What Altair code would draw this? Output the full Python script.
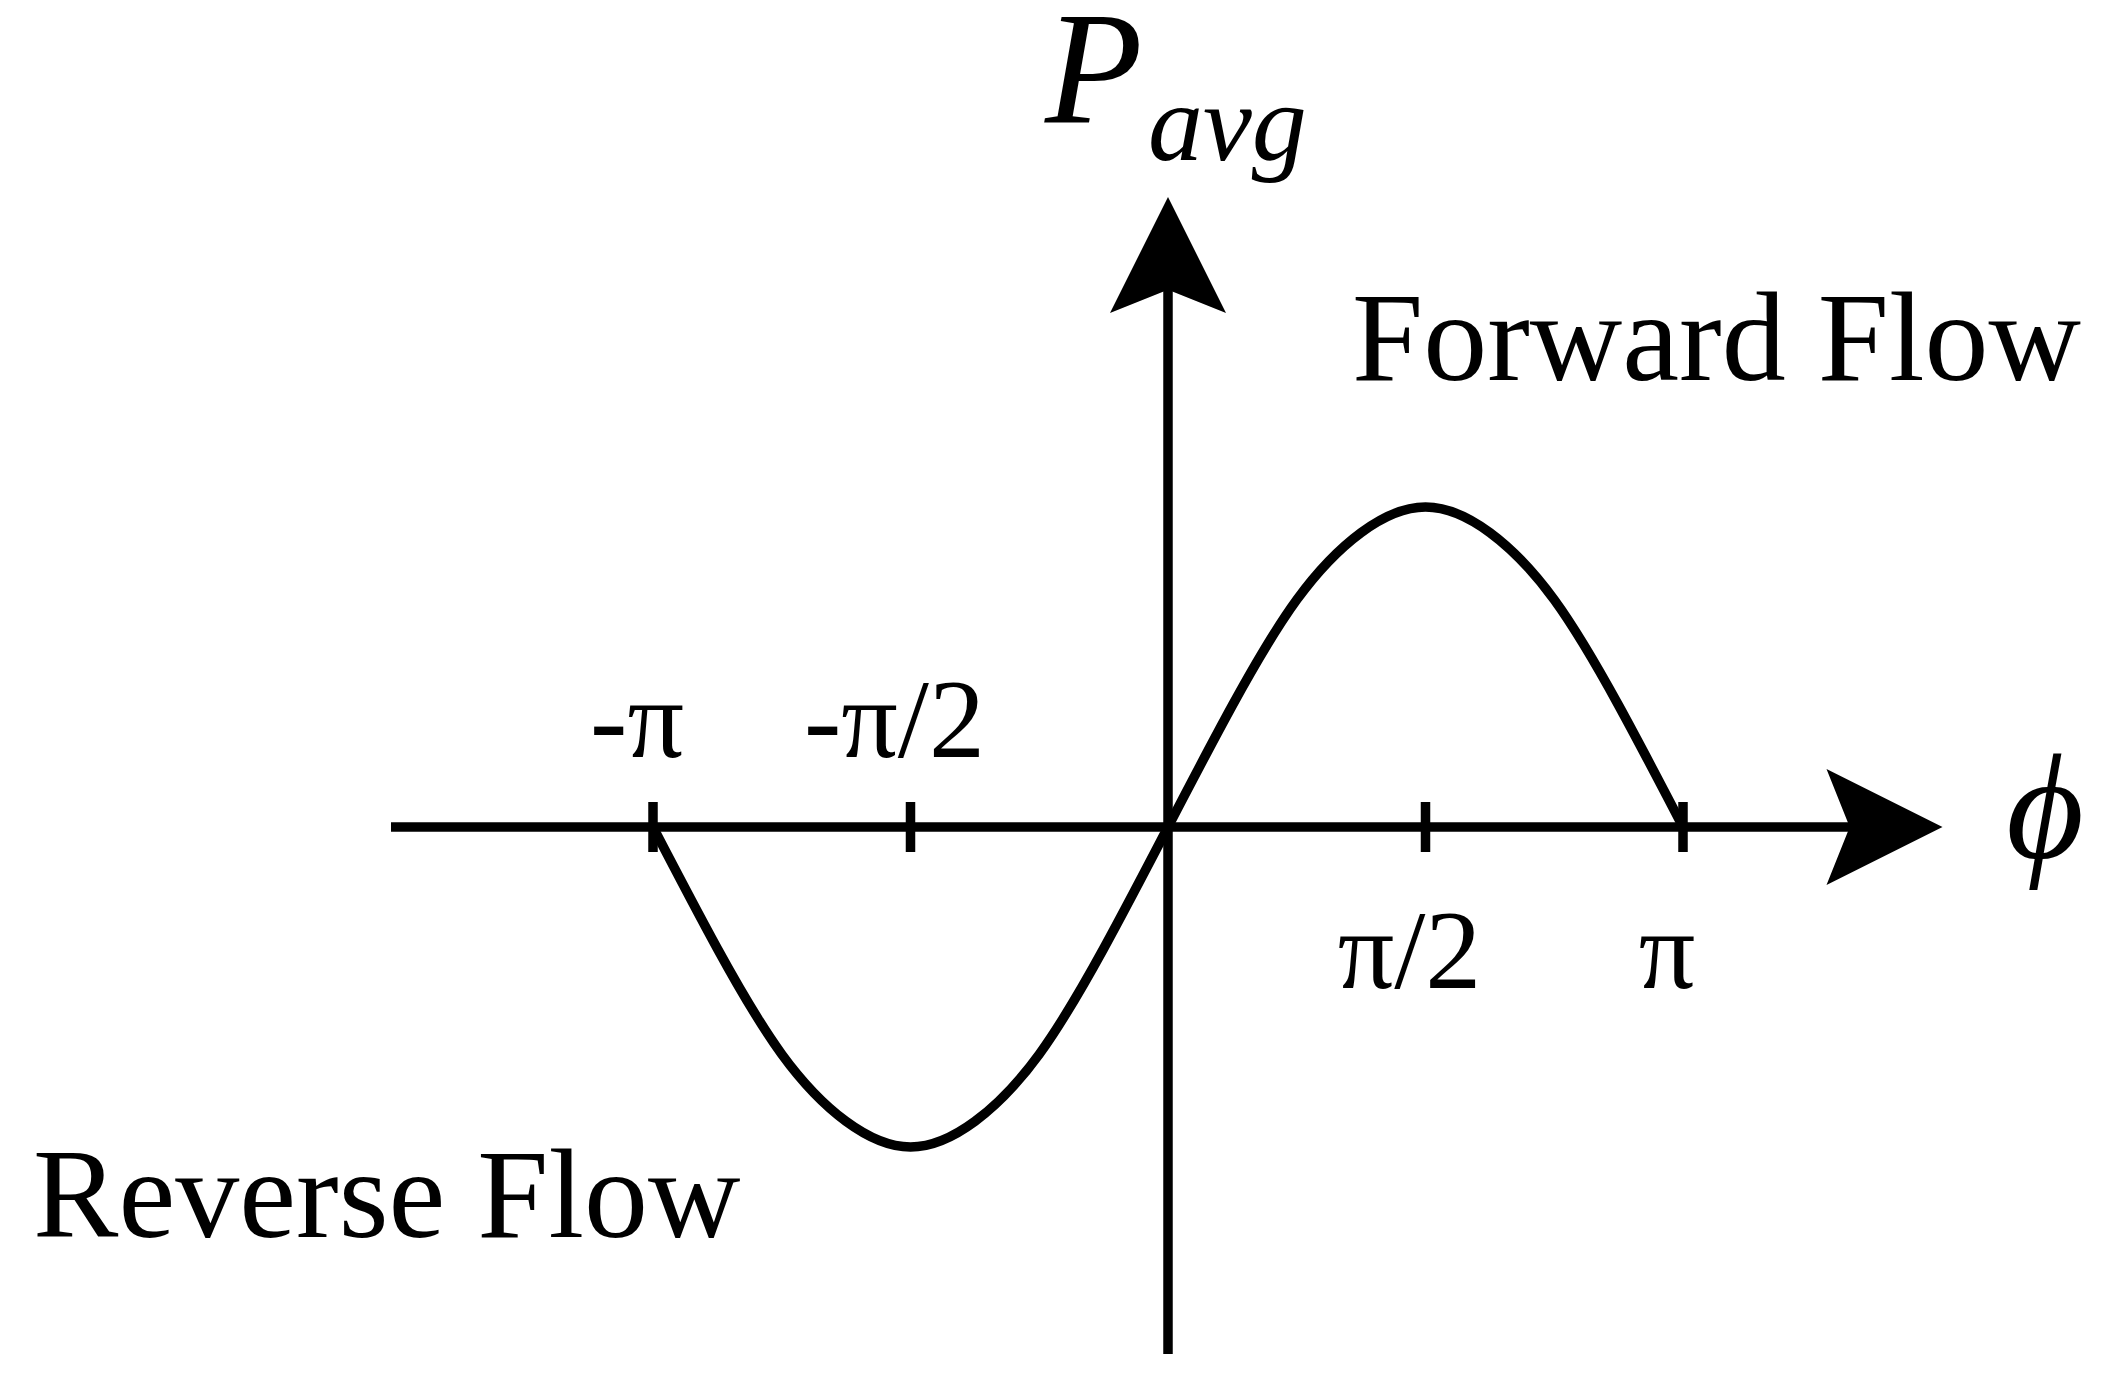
import math
import altair as alt
import pandas as pd

# ---- data ----
# phase angle (in units of pi) and normalised average power (peak = 1)
phi_over_pi = [-1, -0.875, -0.75, -0.625, -0.5, -0.375, -0.25, -0.125, 0,
               0.125, 0.25, 0.375, 0.5, 0.625, 0.75, 0.875, 1]
p_avg = [0, -0.38, -0.71, -0.92, -1.0, -0.92, -0.71, -0.38, 0,
         0.38, 0.71, 0.92, 1.0, 0.92, 0.71, 0.38, 0]

tick_phi_over_pi = [-1, -0.5, 0.5, 1]
tick_labels = ["-π", "-π/2", "π/2", "π"]

region_labels = ["Forward Flow", "Reverse Flow"]

# ---- layout (pixels) ----
W, H = 2100, 1370
X0, PX_PI = 1160, 515      # plot px of phi = 0, px per pi
Y0, PX_UNIT = 819, 320     # plot px of P = 0, px per unit
FONT = "Liberation Serif"


def xv(px):  # page px -> phi (rad)
    return (px - 8 - X0) / PX_PI * math.pi


def yv(px):  # page px -> P value
    return (Y0 - (px - 8)) / PX_UNIT


xscale = alt.Scale(domain=[-X0 / PX_PI * math.pi, (W - X0) / PX_PI * math.pi], nice=False, zero=False)
yscale = alt.Scale(domain=[-(H - Y0) / PX_UNIT, Y0 / PX_UNIT], nice=False, zero=False)

X = lambda f: alt.X(f, type="quantitative", scale=xscale, axis=None)
Y = lambda f: alt.Y(f, type="quantitative", scale=yscale, axis=None)

curve_df = pd.DataFrame({"phi": [v * math.pi for v in phi_over_pi], "p": p_avg})

axes_df = pd.DataFrame({
    "x": [xv(391), 0.0], "x2": [xv(1885), 0.0],
    "y": [0.0, yv(1354)], "y2": [0.0, yv(255)],
})

ticks_df = pd.DataFrame({
    "x": [v * math.pi for v in tick_phi_over_pi],
    "label": tick_labels,
})
ticks_df["y"] = yv(852)
ticks_df["y2"] = yv(802)
ticks_df["ly"] = [yv(757) if v < 0 else yv(988) for v in tick_phi_over_pi]

arrows_df = pd.DataFrame({
    "x": [xv(1884.5), 0.0],
    "y": [0.0, yv(255)],
    "shape": ["M1,0L-1,-1L-0.6,0L-1,1Z", "M0,-1L1,1L0,0.6L-1,1Z"],
})

axes = alt.Chart(axes_df).mark_rule(color="black", strokeWidth=9.5).encode(
    x=X("x"), x2="x2", y=Y("y"), y2="y2")

ticks = alt.Chart(ticks_df).mark_rule(color="black", strokeWidth=9.5).encode(
    x=X("x"), y=Y("y"), y2="y2")

arrows = alt.Chart(arrows_df).mark_point(filled=True, color="black", opacity=1, size=116 * 116, strokeWidth=0).encode(
    x=X("x"), y=Y("y"), shape=alt.Shape("shape:N", scale=None, legend=None))

curve = alt.Chart(curve_df).mark_line(color="black", strokeWidth=9.5, interpolate="natural").encode(
    x=X("phi"), y=Y("p"))

tick_text = alt.Chart(ticks_df).mark_text(font=FONT, fontSize=112, align="center", baseline="alphabetic",
                                          dx=-16, color="black").encode(
    x=X("x"), y=Y("ly"), text="label:N")

region_df = pd.DataFrame({"label": region_labels, "x": [xv(1352), xv(33)], "y": [yv(380), yv(1237)]})
region_text = alt.Chart(region_df).mark_text(font=FONT, fontSize=128, align="left", baseline="alphabetic",
                                             color="black").encode(
    x=X("x"), y=Y("y"), text="label:N")


def label(txt, x, y, size, align="left"):
    df = pd.DataFrame({"t": [txt], "x": [x], "y": [y]})
    return alt.Chart(df).mark_text(font=FONT, fontSize=size, fontStyle="italic", align=align,
                                   baseline="alphabetic", color="black").encode(
        x=X("x"), y=Y("y"), text="t:N")


p_label = label("P", xv(1045), yv(122), 160)
avg_label = label("avg", xv(1148), yv(160), 110)
phi_label = label("ϕ", xv(2045), yv(858), 150, align="center")

chart = alt.layer(axes, ticks, curve, arrows, tick_text, region_text, p_label, avg_label, phi_label).properties(
    width=W, height=H, padding=0, background="white",
    autosize=alt.AutoSizeParams(type="none")
).configure_view(stroke=None)

chart.save("out.html", embed_options={"renderer": "svg", "actions": False})
